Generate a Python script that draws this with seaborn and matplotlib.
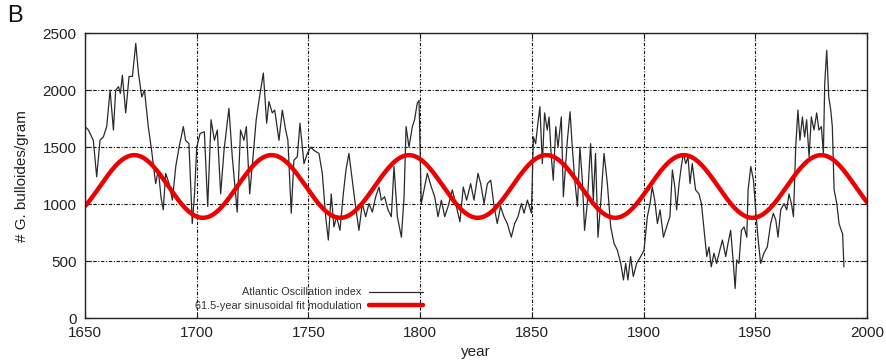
import numpy as np
import pandas as pd
import matplotlib
matplotlib.use("Agg")
import matplotlib.pyplot as plt
import seaborn as sns

# G. bulloides abundance record (Atlantic Oscillation index proxy)
ao_year = [
    1650, 1651.5, 1653.7, 1655.2, 1656.7, 1658.2, 1659.7, 1661.2, 1662.7, 1663.7,
    1665, 1665.8, 1666.7, 1668.2, 1669.7, 1671.2, 1672.7, 1673.9, 1675.4, 1676.6,
    1678.3, 1679.8, 1681.6, 1682.8, 1684, 1685, 1686.1, 1687.6, 1689.1, 1690.6,
    1692.1, 1694, 1695, 1696.5, 1698, 1699, 1700, 1701.5, 1703.4, 1704.9,
    1706.4, 1707.9,
    1709.2, 1710.7, 1712.2, 1714.4, 1715.9, 1718.1, 1719.6, 1721.1, 1722.2, 1723.7,
    1725.2, 1726.6, 1728.1, 1729.8, 1731.3, 1732.3, 1733.8, 1734.9, 1736.8, 1738.3,
    1739.8, 1740.8, 1742.3, 1743.5, 1745, 1746.2, 1748, 1749.5, 1751, 1752.5,
    1754.7, 1756.2, 1757.7, 1758.9, 1760.2, 1761.4, 1762.6, 1764.1, 1765.6,
    1766.8, 1768.1, 1769.6, 1771.1, 1772.6, 1774.1, 1775.6, 1777.1, 1778.6, 1780.1,
    1781.6, 1782.6, 1784.1, 1785.6, 1787.1, 1788.3, 1789.8, 1791.6, 1792.8, 1793.7,
    1795, 1796.5, 1797.5, 1798.7, 1799.5, 1800.5, 1801.7, 1803.2, 1805, 1806.5,
    1808, 1809.5, 1811, 1812.5, 1814.4, 1815.9, 1817.8, 1819.3, 1820.8, 1822.6,
    1824.1,
    1825.9, 1827.1, 1828.6, 1830.1, 1831.6, 1833.1, 1834.5, 1836, 1837.5, 1839,
    1840.8, 1842.3, 1843.8, 1845.3, 1846.5, 1848, 1849.8, 1850.7, 1851.7, 1852.7,
    1853.6, 1854.7, 1855.7, 1856.9, 1857.7, 1858.7, 1859.6, 1860.7, 1861.7, 1863.2,
    1864.1, 1865.9, 1867.1, 1868.1, 1869.2, 1870.4, 1871.5, 1872.6, 1873.6, 1874.8,
    1876.3, 1877.5, 1878.5, 1879.6, 1880.8, 1882.3,
    1883.8, 1885.3, 1886.8, 1888.3, 1889.8, 1891, 1892, 1893, 1894.2, 1895.4,
    1896.9, 1898.7, 1900.2, 1901.7, 1902.9, 1903.9, 1905, 1906.2, 1907.4, 1908.9,
    1910.3, 1911.8, 1912.9, 1914, 1914.8, 1915.9, 1916.9, 1917.8, 1918.9, 1919.9,
    1920.8, 1921.8, 1923.3, 1924.8, 1925.9, 1927.1, 1928.3, 1929.3, 1930.3, 1931.5,
    1932.7, 1933.8, 1935.3, 1936.8, 1937.8, 1939, 1940.2, 1941,
    1941.7, 1942.7, 1943.8, 1945, 1946.2, 1946.8, 1948, 1949.2, 1950.2, 1951.2,
    1952.4, 1953.9, 1955.4, 1956.9, 1958.1, 1959.2, 1960.2, 1961.4, 1962.9, 1964.1,
    1965.1, 1966.2, 1967.1, 1968.1, 1969.1, 1970, 1971.1, 1972.1, 1973, 1974.1,
    1975.1, 1976.3, 1977.5, 1978.5, 1979.6, 1980.5, 1981.1, 1982, 1982.9, 1983.8,
    1984.5, 1985.3, 1986.5, 1987.5, 1988.5, 1989.1, 1989.7,
]
ao_value = [
    1680, 1650, 1560, 1240, 1560, 1590, 1680, 2000, 1650, 2000,
    2030, 1970, 2130, 1800, 2120, 2120, 2410, 2150, 1940, 2000,
    1680, 1470, 1180, 1300, 1060, 950, 1270, 1180, 1035, 1330,
    1500, 1680, 1560, 1530, 830, 1090, 1500, 1620, 1635, 980,
    1740, 1560,
    1650, 1090, 1470, 1840, 1415, 930, 1650, 1560, 1680, 1090,
    1415, 1740, 1940, 2150, 1710, 1900, 1800, 1825, 1560, 1825,
    1650, 1560, 920, 1385, 1415, 1710, 1355, 1445, 1500, 1470,
    1445, 1270, 890, 685, 1090, 800, 890, 770, 1090,
    1300, 1445, 1210, 980, 770, 1005, 890, 1005, 930, 1065,
    1150, 1035, 1065, 950, 890, 1330, 890, 710, 1065, 1680,
    1500, 1680, 1740, 1885, 1910, 1005, 1125, 1270, 1150, 1065,
    890, 1035, 890, 980, 1125, 1005, 845, 1150, 1035, 1180,
    1035,
    1270, 1180, 1005, 1180, 1210, 980, 830, 980, 890, 830,
    710, 830, 890, 1005, 920, 1035, 920, 1590, 1530, 1710,
    1855, 1355, 1800, 1650, 1765, 1415, 1210, 1680, 1500, 1765,
    1065, 1560, 1810, 1500, 1210, 980, 1500, 1210, 770, 1005,
    1530, 1035, 1445, 710, 1005, 1445,
    1180, 800, 655, 595, 480, 335, 480, 335, 540, 365,
    480, 540, 595, 890, 1005, 1150, 1035, 830, 950, 710,
    800, 890, 1300, 1150, 950, 1180, 1330, 1445, 1355, 1415,
    1180, 1355, 1125, 1090, 1005, 770, 540, 625, 450, 570,
    480, 570, 685, 540, 655, 770, 480, 260,
    510, 480, 770, 800, 710, 1125, 1330, 1210, 950, 710,
    480, 570, 625, 830, 920, 860, 710, 950, 1005, 950,
    1090, 1005, 890, 1500, 1825, 1560, 1765, 1590, 1740, 1415,
    1765, 1650, 1800, 1650, 1680, 1445, 2060, 2350, 1940, 1825,
    1680, 1125, 1005, 830, 770, 740, 450,
]

# 61.5-year sinusoidal fit parameters
fit_period = 61.5
fit_mean = 1155.0
fit_amplitude = 275.0
fit_peak_year = 1672.0

x_ticks = [1650, 1700, 1750, 1800, 1850, 1900, 1950, 2000]
y_ticks = [0, 500, 1000, 1500, 2000, 2500]

ao = pd.DataFrame({"year": ao_year, "value": ao_value})
fit_years = np.linspace(1650, 2000, 701)
fit = pd.DataFrame({
    "year": fit_years,
    "value": fit_mean + fit_amplitude * np.cos(2 * np.pi * (fit_years - fit_peak_year) / fit_period),
})

sns.set_theme(style="white")
plt.rcParams["font.family"] = ["Liberation Sans", "DejaVu Sans"]

fig = plt.figure(figsize=(8.86, 3.64), dpi=100)
ax = fig.add_axes([0.096, 0.126, 0.8825, 0.783])

sns.lineplot(data=ao, x="year", y="value", ax=ax, color="#2a2a2a", linewidth=0.9,
             label="Atlantic Oscillation index", estimator=None, sort=False)
sns.lineplot(data=fit, x="year", y="value", ax=ax, color="#ee0000", linewidth=3.2,
             label="61.5-year sinusoidal fit modulation", estimator=None)

ax.set_xlim(1650, 2000)
ax.set_ylim(0, 2500)
ax.set_xticks(x_ticks)
ax.set_yticks(y_ticks)
ax.tick_params(axis="both", direction="in", length=4, width=0.8, color="#222222",
               labelsize=11, labelcolor="#222222", pad=6, top=True, right=True,
               bottom=True, left=True)
ax.grid(True, color="#111111", linewidth=0.8, linestyle=(0, (3, 1.5, 1, 1.5)))
ax.set_axisbelow(True)
for s in ax.spines.values():
    s.set_color("#222222")
    s.set_linewidth(1.0)

ax.set_xlabel("year", fontsize=11, color="#222222", labelpad=3)
ax.set_ylabel("# G. bulloides/gram", fontsize=11, color="#222222", labelpad=10)

leg = ax.legend(loc="lower right", bbox_to_anchor=(0.442, 0.0), frameon=False,
                markerfirst=False, fontsize=7.8, handlelength=5.0, handletextpad=0.7,
                labelspacing=0.3, borderaxespad=0.3)
for t in leg.get_texts():
    t.set_color("#333333")

fig.text(0.008, 0.925, "B", fontsize=17, color="#111111", ha="left", va="bottom")

fig.savefig("out.png", dpi=100, facecolor="white")
